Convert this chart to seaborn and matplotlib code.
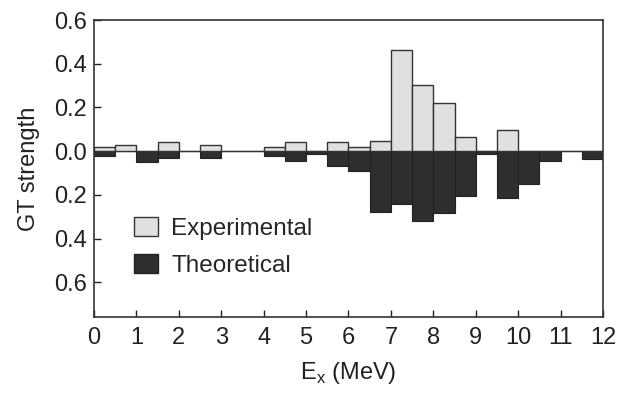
import numpy as np
import pandas as pd
import matplotlib
matplotlib.use("Agg")
import matplotlib.pyplot as plt
import seaborn as sns
from matplotlib.patches import Patch
from matplotlib.ticker import FuncFormatter

sns.set_style("white")
plt.rcParams["font.family"] = ["Liberation Sans", "DejaVu Sans"]

# 0.5 MeV bins, centres
bin_centres = np.arange(0.25, 12.0, 0.5)
experimental = [0.02, 0.03, 0.0, 0.04, 0.0, 0.03, 0.0, 0.0, 0.02, 0.04, 0.0, 0.04,
                0.02, 0.045, 0.465, 0.305, 0.22, 0.065, 0.0, 0.095, 0.0, 0.0, 0.0, 0.0]
theoretical = [0.02, 0.0, 0.05, 0.03, 0.0, 0.03, 0.0, 0.0, 0.02, 0.045, 0.015, 0.07,
               0.09, 0.28, 0.24, 0.32, 0.285, 0.205, 0.012, 0.215, 0.15, 0.047, 0.0, 0.035]
x_ticks = list(range(0, 13))
y_ticks = [-0.6, -0.4, -0.2, 0.0, 0.2, 0.4, 0.6]

df = pd.DataFrame({"Ex": bin_centres, "exp": experimental,
                   "theo": -np.array(theoretical)})

fig = plt.figure(figsize=(6.19, 3.94), dpi=100)
ax = fig.add_axes([0.152, 0.195, 0.822, 0.754])

exp_col = "#e0e0e0"
theo_col = "#2e2e2e"

sns.barplot(data=df, x="Ex", y="theo", native_scale=True, width=1.0,
            color=theo_col, edgecolor="#222222", linewidth=0.8, saturation=1, ax=ax)
sns.barplot(data=df, x="Ex", y="exp", native_scale=True, width=1.0,
            color=exp_col, edgecolor="#333333", linewidth=1.0, saturation=1, ax=ax)
ax.axhline(0, color="#555555", lw=0.8, zorder=0)

ax.set_xlim(0, 12)
ax.set_ylim(-0.76, 0.6)
ax.set_xticks(x_ticks)
ax.set_yticks(y_ticks)
ax.yaxis.set_major_formatter(FuncFormatter(lambda v, p: f"{abs(v):.1f}"))
ax.tick_params(direction="in", length=5, width=1, labelsize=17, colors="#222222",
               bottom=True, left=True, pad=5)
ax.tick_params(axis="x", pad=7)
for s in ax.spines.values():
    s.set_color("#333333")
    s.set_linewidth(1.2)

ax.set_xlabel(r"E$_\mathregular{x}$ (MeV)", fontsize=17, color="#222222", labelpad=8)
ax.set_ylabel("GT strength", fontsize=17, color="#222222", labelpad=10)

handles = [Patch(facecolor=exp_col, edgecolor="#333333", label="Experimental"),
           Patch(facecolor=theo_col, edgecolor="#222222", label="Theoretical")]
ax.legend(handles=handles, loc="lower left", bbox_to_anchor=(0.078, 0.135),
          frameon=False, fontsize=17.5, handlelength=1.0, handleheight=0.8,
          labelspacing=0.6, handletextpad=0.55, borderpad=0, borderaxespad=0)

fig.savefig("out.png", dpi=100)
